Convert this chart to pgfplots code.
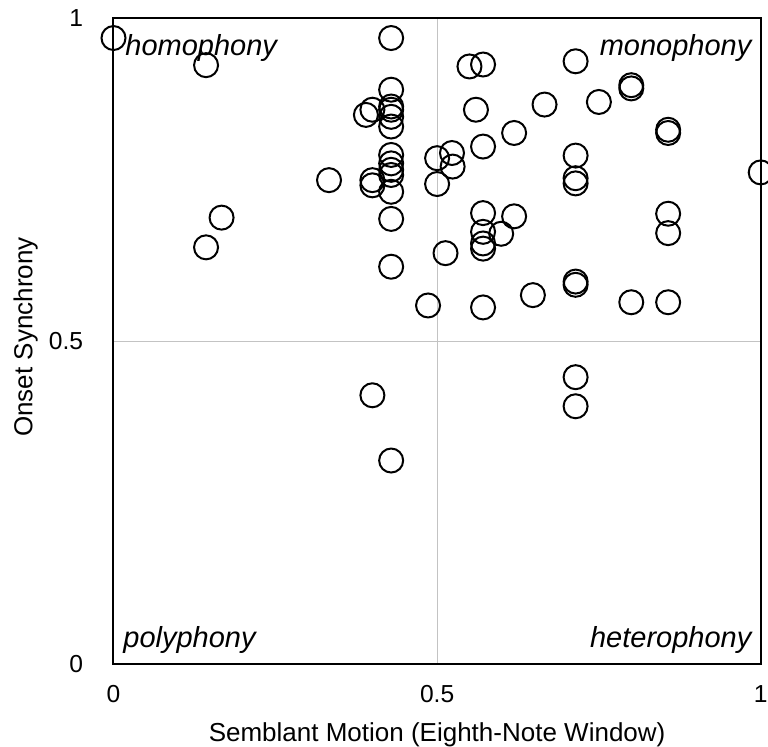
\documentclass[border=0pt]{standalone}
\usepackage{pgfplots}
\pgfplotsset{compat=1.18}
\usepackage{fontspec}
\setmainfont{Liberation Sans}
\pgfplotstableread{
x y
0.000 0.969
0.143 0.927
0.429 0.969
0.429 0.889
0.400 0.858
0.390 0.850
0.429 0.863
0.429 0.858
0.429 0.847
0.429 0.832
0.429 0.788
0.429 0.775
0.429 0.765
0.429 0.757
0.429 0.731
0.400 0.749
0.400 0.741
0.333 0.749
0.167 0.691
0.143 0.645
0.429 0.689
0.429 0.615
0.486 0.555
0.550 0.925
0.571 0.928
0.714 0.933
0.800 0.896
0.800 0.891
0.560 0.858
0.666 0.866
0.750 0.870
0.857 0.827
0.857 0.822
0.619 0.822
0.571 0.801
0.523 0.791
0.500 0.783
0.524 0.770
0.500 0.743
0.714 0.787
0.714 0.752
0.714 0.744
1.000 0.761
0.571 0.698
0.619 0.693
0.571 0.669
0.599 0.666
0.571 0.651
0.571 0.643
0.857 0.697
0.857 0.667
0.513 0.636
0.714 0.592
0.714 0.587
0.648 0.571
0.571 0.552
0.800 0.560
0.857 0.560
0.714 0.444
0.714 0.399
0.400 0.416
0.429 0.315
}\datatable
\begin{document}
\begin{tikzpicture}
\begin{axis}[
  scale only axis,
  width=323.6pt, height=323pt,
  xmin=0, xmax=1, ymin=0, ymax=1,
  xtick={0,0.5,1}, ytick={0,0.5,1},
  xticklabels={0,0.5,1}, yticklabels={0,0.5,1},
  major tick length=0pt,
  grid=major,
  major grid style={line width=0.4pt, draw={rgb,255:red,195;green,195;blue,195}},
  axis line style={line width=1pt, black},
  clip=false,
  /pgf/number format/assume math mode=true,
  tick label style={font=\fontsize{12.3}{14}\selectfont, inner sep=0pt},
  xticklabel style={anchor=north, yshift=-10.5pt},
  yticklabel style={anchor=east, xshift=-15pt},
  xlabel={Semblant Motion (Eighth-Note Window)},
  ylabel={Onset Synchrony},
  label style={font=\fontsize{13}{15}\selectfont},
  xlabel style={at={(axis description cs:0.5,0)}, anchor=base, yshift=-38.5pt, inner sep=0pt},
  ylabel style={at={([shift={(-40.5pt,2pt)}]axis description cs:0,0.5)}, anchor=base, inner sep=0pt},
]
\addplot[only marks, mark=o, mark size=6pt, line width=1pt, black] table[x=x, y=y] {\datatable};
\node[anchor=base west, inner sep=0pt, font=\fontsize{14.5}{17}\selectfont\itshape] at ([shift={(5.75pt,-18.5pt)}]rel axis cs:0,1) {homophony};
\node[anchor=base east, inner sep=0pt, font=\fontsize{14.5}{17}\selectfont\itshape] at ([shift={(-4.5pt,-18.5pt)}]rel axis cs:1,1) {monophony};
\node[anchor=base west, inner sep=0pt, font=\fontsize{14.5}{17}\selectfont\itshape] at ([shift={(4.75pt,8.5pt)}]rel axis cs:0,0) {polyphony};
\node[anchor=base east, inner sep=0pt, font=\fontsize{14.5}{17}\selectfont\itshape] at ([shift={(-4.5pt,8.5pt)}]rel axis cs:1,0) {heterophony};
\end{axis}
\pgfresetboundingbox
\path ([shift={(-56.75pt,-41pt)}]current axis.south west) rectangle ([shift={(3.65pt,9pt)}]current axis.north east);
\end{tikzpicture}
\end{document}
